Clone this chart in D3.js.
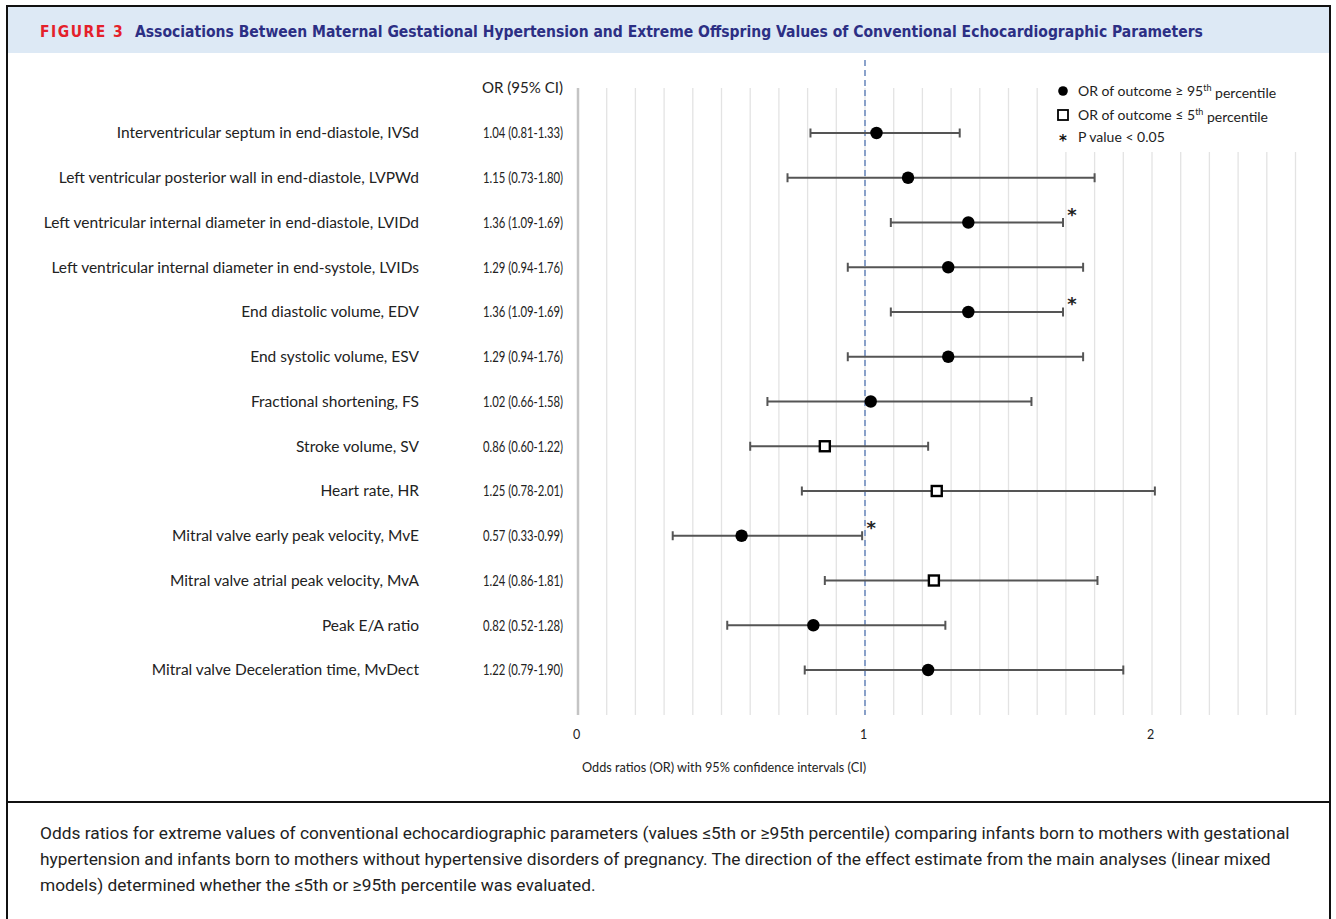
<!DOCTYPE html>
<html>
<head>
<meta charset="utf-8">
<script src="https://cdn.jsdelivr.net/npm/d3@7"></script>
<style>
  html, body { margin: 0; padding: 0; background: #fff; }
  svg { display: block; }
</style>
</head>
<body>
<svg id="fig" width="1336" height="919"></svg>
<script>
// Echocardiographic outcomes, odds ratios with 95% CIs
const labels = [
  "Interventricular septum in end-diastole, IVSd",
  "Left ventricular posterior wall in end-diastole, LVPWd",
  "Left ventricular internal diameter in end-diastole, LVIDd",
  "Left ventricular internal diameter in end-systole, LVIDs",
  "End diastolic volume, EDV",
  "End systolic volume, ESV",
  "Fractional shortening, FS",
  "Stroke volume, SV",
  "Heart rate, HR",
  "Mitral valve early peak velocity, MvE",
  "Mitral valve atrial peak velocity, MvA",
  "Peak E/A ratio",
  "Mitral valve Deceleration time, MvDect"
];
const oddsRatio = [1.04, 1.15, 1.36, 1.29, 1.36, 1.29, 1.02, 0.86, 1.25, 0.57, 1.24, 0.82, 1.22];
const ciLower   = [0.81, 0.73, 1.09, 0.94, 1.09, 0.94, 0.66, 0.60, 0.78, 0.33, 0.86, 0.52, 0.79];
const ciUpper   = [1.33, 1.80, 1.69, 1.76, 1.69, 1.76, 1.58, 1.22, 2.01, 0.99, 1.81, 1.28, 1.90];
// "high" = OR of outcome >= 95th percentile, "low" = OR of outcome <= 5th percentile
const outcomeTail = ["high","high","high","high","high","high","high","low","low","high","low","high","high"];
const significant = [false,false,true,false,true,false,false,false,false,true,false,false,false];
const xTicks = [0, 1, 2];

const rows = labels.map((label, i) => ({
  label, or: oddsRatio[i], lo: ciLower[i], hi: ciUpper[i],
  tail: outcomeTail[i], sig: significant[i]
}));

const svg = d3.select("#fig");
const chartFont = "Lato, 'Open Sans', sans-serif";
const capFont = "'DejaVu Sans Condensed', Roboto, sans-serif";
const starFont = "'DejaVu Sans', sans-serif";

// shrink or grow a text element so it spans the given width
function fitWidth(sel, width) {
  sel.each(function () {
    const w = this.getComputedTextLength();
    const fs = parseFloat(d3.select(this).attr("font-size"));
    d3.select(this).attr("font-size", (fs * width / w).toFixed(2));
  });
}

// ---- figure frame and header band ----
svg.append("rect").attr("x", 8).attr("y", 7).attr("width", 1322).attr("height", 46)
  .attr("fill", "#dde9f5");
svg.append("rect").attr("x", 7).attr("y", 6).attr("width", 1323).attr("height", 930)
  .attr("fill", "none").attr("stroke", "#111").attr("stroke-width", 2);
svg.append("line").attr("x1", 7).attr("x2", 1330).attr("y1", 802).attr("y2", 802)
  .attr("stroke", "#111").attr("stroke-width", 2);

svg.append("text").attr("x", 40).attr("y", 37)
  .attr("font-family", capFont).attr("font-weight", "bold").attr("font-size", 15.5)
  .attr("fill", "#e4202a").attr("letter-spacing", 1.5).text("FIGURE 3");
const titleText = svg.append("text").attr("x", 135).attr("y", 37)
  .attr("font-family", capFont).attr("font-weight", "bold").attr("font-size", 15.5)
  .attr("fill", "#2c2f84")
  .text("Associations Between Maternal Gestational Hypertension and Extreme Offspring Values of Conventional Echocardiographic Parameters");
fitWidth(titleText, 1068);

// ---- scales ----
const x = d3.scaleLinear().domain([0, 2.5]).range([578, 1295.5]);
const y = d3.scalePoint().domain(labels).range([133, 670]);
const plotTop = 88, plotBottom = 715;

// vertical gridlines every 0.1
const grid = d3.range(1, 26).map(v => v / 10);
svg.append("g").selectAll("line").data(grid).join("line")
  .attr("x1", d => x(d)).attr("x2", d => x(d))
  .attr("y1", plotTop).attr("y2", plotBottom)
  .attr("stroke", "#e3e3e3").attr("stroke-width", 1.3);

// left axis line
svg.append("line").attr("x1", x(0)).attr("x2", x(0))
  .attr("y1", plotTop).attr("y2", plotBottom)
  .attr("stroke", "#c4c4c4").attr("stroke-width", 2.5);

// reference line at OR = 1
svg.append("line").attr("x1", x(1)).attr("x2", x(1))
  .attr("y1", plotTop - 28).attr("y2", plotBottom)
  .attr("stroke", "#6f8cbf").attr("stroke-width", 1.6)
  .attr("stroke-dasharray", "6,4");

// x axis tick labels
const xAxis = d3.axisBottom(x).tickValues(xTicks).tickFormat(d3.format("d"))
  .tickSize(0).tickPadding(0);
const gx = svg.append("g").attr("transform", `translate(0, ${plotBottom + 20})`).call(xAxis);
gx.select(".domain").remove();
gx.selectAll("text").attr("font-family", chartFont).attr("font-size", 12.5)
  .attr("fill", "#222").attr("dy", "0.3em").attr("dx", -2);

svg.append("text").attr("x", 582).attr("y", 772)
  .attr("font-family", chartFont).attr("font-size", 12.7).attr("fill", "#222")
  .text("Odds ratios (OR) with 95% confidence intervals (CI)");

// ---- row labels and OR text ----
svg.append("text").attr("x", 563).attr("y", 88).attr("text-anchor", "end")
  .attr("dy", "0.35em").attr("font-family", chartFont).attr("font-size", 15.5)
  .attr("fill", "#222").attr("textLength", 81).attr("lengthAdjust", "spacingAndGlyphs")
  .text("OR (95% CI)");

const rowG = svg.append("g").selectAll("g").data(rows).join("g")
  .attr("transform", d => `translate(0, ${y(d.label)})`);
rowG.append("text").attr("x", 419).attr("text-anchor", "end").attr("dy", "0.35em")
  .attr("font-family", chartFont).attr("font-size", 15.5).attr("fill", "#222")
  .text(d => d.label);
// OR column set in a fixed narrow width
rowG.append("text").attr("x", 563).attr("text-anchor", "end").attr("dy", "0.35em")
  .attr("font-family", chartFont).attr("font-size", 15.5).attr("fill", "#222")
  .attr("textLength", 80).attr("lengthAdjust", "spacingAndGlyphs")
  .text(d => `${d.or.toFixed(2)} (${d.lo.toFixed(2)}-${d.hi.toFixed(2)})`);

// ---- confidence intervals ----
const barColor = "#555";
rowG.append("line").attr("x1", d => x(d.lo)).attr("x2", d => x(d.hi))
  .attr("stroke", barColor).attr("stroke-width", 2);
rowG.append("line").attr("x1", d => x(d.lo)).attr("x2", d => x(d.lo))
  .attr("y1", -4.5).attr("y2", 4.5).attr("stroke", barColor).attr("stroke-width", 2);
rowG.append("line").attr("x1", d => x(d.hi)).attr("x2", d => x(d.hi))
  .attr("y1", -4.5).attr("y2", 4.5).attr("stroke", barColor).attr("stroke-width", 2);

// point estimates
rowG.filter(d => d.tail === "high").append("circle")
  .attr("cx", d => x(d.or)).attr("r", 6.2).attr("fill", "#000");
rowG.filter(d => d.tail === "low").append("rect")
  .attr("x", d => x(d.or) - 5).attr("y", -5).attr("width", 10).attr("height", 10)
  .attr("fill", "#fff").attr("stroke", "#000").attr("stroke-width", 2.4);

// significance markers
rowG.filter(d => d.sig).append("text")
  .attr("x", d => x(d.hi) + 9).attr("y", -2)
  .attr("text-anchor", "middle").attr("font-family", starFont).attr("font-weight", "bold")
  .attr("font-size", 18).attr("fill", "#222").text("*");

// ---- legend ----
const lg = svg.append("g");
lg.append("rect").attr("x", 1050).attr("y", 74).attr("width", 250).attr("height", 78)
  .attr("fill", "#fff");
lg.append("circle").attr("cx", 1063).attr("cy", 91).attr("r", 4.8).attr("fill", "#000");
lg.append("rect").attr("x", 1058).attr("y", 110).attr("width", 10).attr("height", 10)
  .attr("fill", "#fff").attr("stroke", "#000").attr("stroke-width", 1.8);
lg.append("text").attr("x", 1063).attr("y", 146).attr("text-anchor", "middle")
  .attr("font-family", starFont).attr("font-weight", "bold")
  .attr("font-size", 15).attr("fill", "#111").text("*");

const legendText = [
  { y: 91, pre: "OR of outcome \u2265 95", sup: "th", post: " percentile" },
  { y: 115, pre: "OR of outcome \u2264 5", sup: "th", post: " percentile" },
  { y: 137, pre: "P value < 0.05", sup: null, post: "" }
];
legendText.forEach(t => {
  const tx = lg.append("text").attr("x", 1078).attr("y", t.y).attr("dy", "0.35em")
    .attr("font-family", chartFont).attr("font-size", 14).attr("fill", "#222");
  tx.append("tspan").text(t.pre);
  if (t.sup) {
    tx.append("tspan").attr("font-size", 9).attr("dy", "-0.5em").text(t.sup);
    tx.append("tspan").attr("dy", "0.5em").text(t.post);
  }
});

// ---- caption ----
const caption = [
  "Odds ratios for extreme values of conventional echocardiographic parameters (values \u22645th or \u226595th percentile) comparing infants born to mothers with gestational",
  "hypertension and infants born to mothers without hypertensive disorders of pregnancy. The direction of the effect estimate from the main analyses (linear mixed",
  "models) determined whether the \u22645th or \u226595th percentile was evaluated."
];
const capFontFamily = "Roboto, 'DejaVu Sans', sans-serif";
const capLines = svg.append("g").selectAll("text").data(caption).join("text")
  .attr("x", 40).attr("y", (d, i) => 839 + i * 26)
  .attr("font-family", capFontFamily).attr("font-size", 15).attr("fill", "#222")
  .text(d => d);
// size the caption so its first line fills the text block
const firstW = capLines.node().getComputedTextLength();
const capSize = (15 * 1250 / firstW).toFixed(2);
capLines.attr("font-size", capSize);
</script>
</body>
</html>
